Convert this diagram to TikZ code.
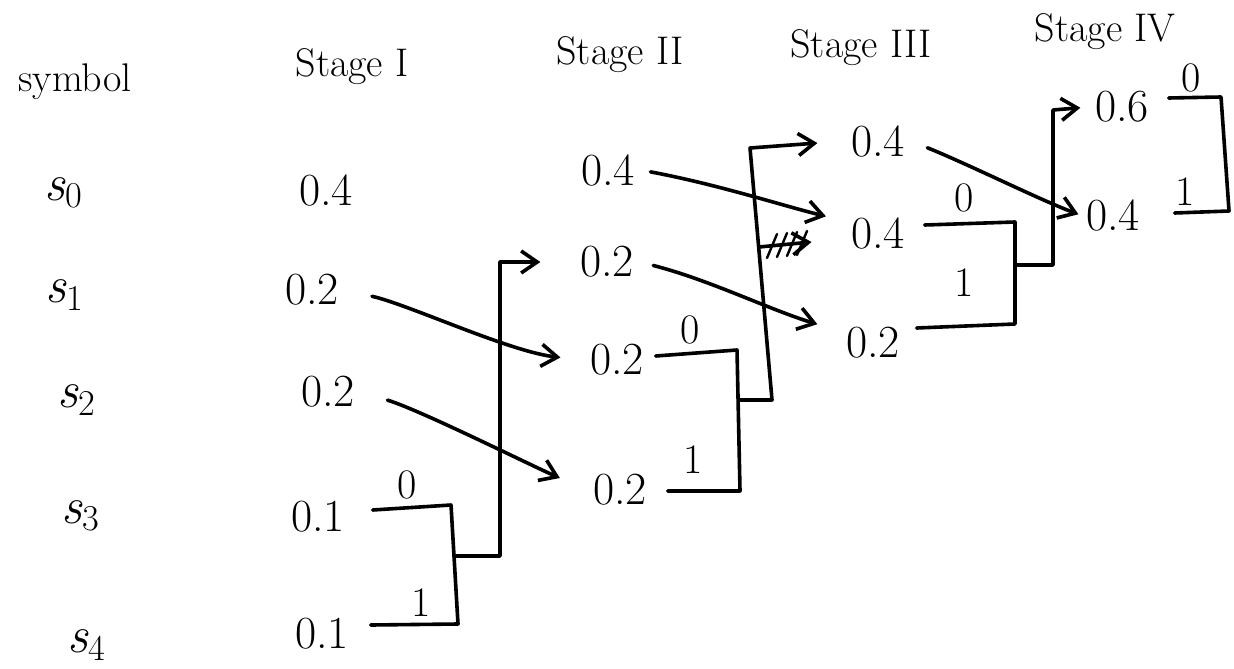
\documentclass[tikz,border=0pt]{standalone}
\usepackage{fontspec}
\usetikzlibrary{arrows.meta,calc}
\begin{document}
\begin{tikzpicture}[x=0.5pt,y=-0.5pt,
  line width=1.8pt, line join=round, line cap=round,
  hdr/.style={font=\fontsize{20}{24}\selectfont, inner sep=0pt},
  sym/.style={font=\fontsize{26}{30}\selectfont, inner sep=0pt},
  prob/.style={font=\fontsize{23}{27}\selectfont, inner sep=2pt},
  bit/.style={font=\fontsize{21}{25}\selectfont, inner sep=0pt},
  flow/.style={-{Straight Barb[length=8pt,width=11pt]}},
  hatch/.style={line width=1.2pt},
]
\useasboundingbox (0,0) rectangle (1234,668);

% column headings
\node[hdr] (hsym) at (75,82) {symbol};
\node[hdr] (h1) at (352,67) {Stage I};
\node[hdr] (h2) at (620,55) {Stage II};
\node[hdr] (h3) at (861,48) {Stage III};
\node[hdr] (h4) at (1105,32) {Stage IV};

% source symbols
\node[sym] (s0) at (64,193) {\textit{s}\textsubscript{0}};
\node[sym] (s1) at (65,295) {\textit{s}\textsubscript{1}};
\node[sym] (s2) at (77,400) {\textit{s}\textsubscript{2}};
\node[sym] (s3) at (81,516) {\textit{s}\textsubscript{3}};
\node[sym] (s4) at (87,645) {\textit{s}\textsubscript{4}};

% stage I probabilities
\node[prob] (a0) at (326,190) {0.4};
\node[prob] (a1) at (312,290) {0.2};
\node[prob] (a2) at (328,392) {0.2};
\node[prob] (a3) at (318,517) {0.1};
\node[prob] (a4) at (322,634) {0.1};

% stage II probabilities
\node[prob] (b0) at (608,170) {0.4};
\node[prob] (b1) at (607,262) {0.2};
\node[prob] (b2) at (617,360) {0.2};
\node[prob] (b3) at (620,490) {0.2};

% stage III probabilities
\node[prob] (c0) at (878,141) {0.4};
\node[prob] (c1) at (878,233) {0.4};
\node[prob] (c2) at (873,343) {0.2};

% stage IV probabilities
\node[prob] (d0) at (1122,107) {0.6};
\node[prob] (d1) at (1113,215) {0.4};

% stage I: combine the two 0.1 entries
\draw ($(a3.east)+(22,-7)$) -- (451,505) -- (458,624) -- ($(a4.east)+(16,-9)$);
\node[bit] (l10) at (407,485) {0};
\node[bit] (l11) at (421,603) {1};
\coordinate (k1) at (454,556);
\draw[flow, shorten >=17pt] (k1) -- (500,556) -- (500,262) -- (b1.west);

% stage I -> stage II reordering
\draw[flow, shorten <=14pt, shorten >=12pt]
  (a1.east) .. controls (410,305) and (510,352) .. (b2.west);
\draw[flow, shorten <=14pt, shorten >=15pt]
  (a2.east) .. controls (420,410) and (530,465) .. (b3.west);

% stage II: combine the two lowest entries
\draw ($(b2.east)+(6,-4)$) -- (737,350) -- (740,491) -- ($(b3.east)+(15,1)$);
\node[bit] (l20) at (690,330) {0};
\node[bit] (l21) at (693,460) {1};
\coordinate (k2) at (739,400);
\draw[flow, shorten >=14pt] (k2) -- (772,400) -- (750,148) -- (c0.west);

% struck-out arrow
\coordinate (k2b) at (759,247);
\draw[flow, shorten >=17pt] (k2b) -- (c1.190);
\foreach \hx/\hy in {772/246, 782/245, 792/244, 802/243}
  \draw[hatch] (\hx-5,\hy+12) -- (\hx+5,\hy-12);

% stage II -> stage III reordering
\draw[flow, shorten <=5pt, shorten >=10pt]
  (b0.east) .. controls (720,185) and (780,205) .. (c1.160);
\draw[flow, shorten <=7pt, shorten >=12pt]
  (b1.east) .. controls (710,280) and (770,310) .. (c2.160);

% stage III: combine the two lowest entries
\draw ($(c1.east)+(14,-8)$) -- (1015,222) -- (1015,324) -- ($(c2.east)+(11,-15)$);
\node[bit] (l30) at (964,198) {0};
\node[bit] (l31) at (964,283) {1};
\coordinate (k3) at (1015,265);
\draw[flow, shorten >=4.5pt] (k3) -- (1053,265) -- (1053,110) -- (d0.west);

% stage III -> stage IV reordering
\draw[flow, shorten <=9pt, shorten >=1pt]
  (c0.east) .. controls (970,165) and (1040,200) .. (d1.west);

% stage IV: final pair
\draw ($(d0.east)+(14,-9)$) -- (1221,97) -- (1229,211) -- ($(d1.east)+(29,-2)$);
\node[bit] (l40) at (1191,78) {0};
\node[bit] (l41) at (1185,192) {1};
\end{tikzpicture}
\end{document}
